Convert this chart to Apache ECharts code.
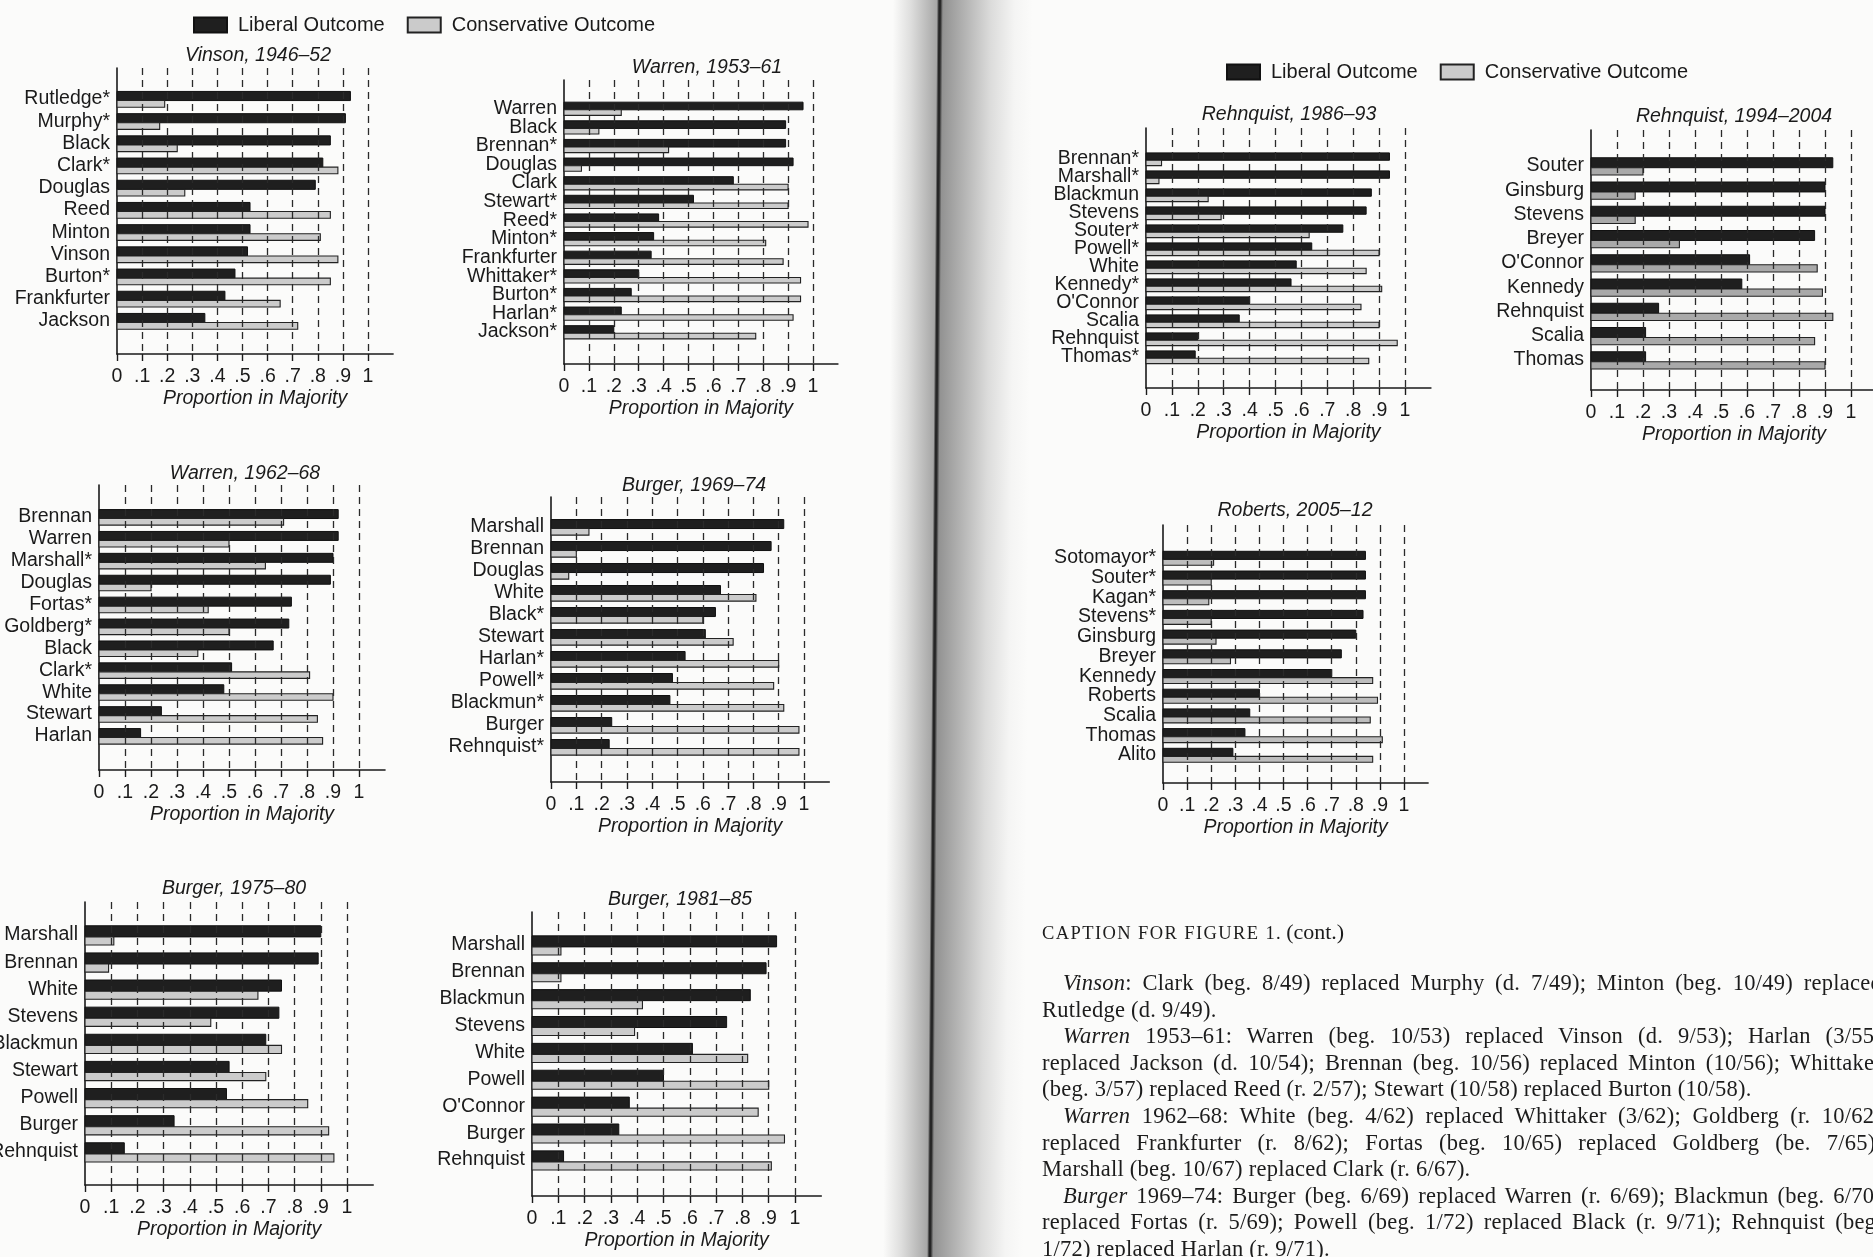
<!DOCTYPE html>
<html>
<head>
<meta charset="utf-8">
<title>Proportion in Majority by Court</title>
<script src="https://cdn.jsdelivr.net/npm/echarts@6/dist/echarts.min.js"></script>
<style>
  html, body { margin: 0; padding: 0; width: 1873px; height: 1257px; overflow: hidden; background: #fbfbfa; }
  #gutter {
    position: absolute; left: 888px; top: -30px; width: 145px; height: 1320px;
    transform: rotate(0.45deg);
    background: linear-gradient(to right,
      rgba(0,0,0,0) 0px, rgba(70,70,70,0.16) 18px, rgba(50,50,50,0.42) 44px,
      #262626 46px, #262626 47.5px, rgba(60,60,60,0.55) 50px,
      rgba(80,80,80,0.42) 72px, rgba(120,120,120,0.24) 98px, rgba(170,170,170,0.08) 122px, rgba(0,0,0,0) 140px);
  }
  #chart { position: absolute; left: 0; top: 0; width: 1873px; height: 1257px; }
  #caption {
    position: absolute; left: 1042px; top: 919px; width: 840px;
    font-family: "Liberation Serif", "DejaVu Serif", serif; font-size: 22.5px; letter-spacing: 0.25px; color: #1c1c1c;
  }
  #caption .head { height: 26px; line-height: 26px; font-size: 22px; margin-bottom: 25px; letter-spacing: 0; }
  #caption .head .caps { font-size: 18.5px; letter-spacing: 1.4px; margin-right: 4px; }
  #caption .ln { height: 26.6px; line-height: 26.6px; text-align: left; }
  #caption .ln.j { text-align: justify; text-align-last: justify; }
  #caption .ln.ind { text-indent: 21px; }
</style>
</head>
<body>
<div id="gutter"></div>
<div id="chart"></div>
<div id="caption">
  <div class="head"><span class="caps">CAPTION FOR FIGURE 1.</span>(cont.)</div>
  <div class="ln j ind"><i>Vinson</i>: Clark (beg. 8/49) replaced Murphy (d. 7/49); Minton (beg. 10/49) replaced</div>
  <div class="ln">Rutledge (d. 9/49).</div>
  <div class="ln j ind"><i>Warren</i> 1953–61: Warren (beg. 10/53) replaced Vinson (d. 9/53); Harlan (3/55)</div>
  <div class="ln j">replaced Jackson (d. 10/54); Brennan (beg. 10/56) replaced Minton (10/56); Whittaker</div>
  <div class="ln">(beg. 3/57) replaced Reed (r. 2/57); Stewart (10/58) replaced Burton (10/58).</div>
  <div class="ln j ind"><i>Warren</i> 1962–68: White (beg. 4/62) replaced Whittaker (3/62); Goldberg (r. 10/62)</div>
  <div class="ln j">replaced Frankfurter (r. 8/62); Fortas (beg. 10/65) replaced Goldberg (be. 7/65);</div>
  <div class="ln">Marshall (beg. 10/67) replaced Clark (r. 6/67).</div>
  <div class="ln j ind"><i>Burger</i> 1969–74: Burger (beg. 6/69) replaced Warren (r. 6/69); Blackmun (beg. 6/70)</div>
  <div class="ln j">replaced Fortas (r. 5/69); Powell (beg. 1/72) replaced Black (r. 9/71); Rehnquist (beg.</div>
  <div class="ln">1/72) replaced Harlan (r. 9/71).</div>
</div>
<script>
// ---- Data: proportion of cases in which each justice was in the majority ----
const tickValues = [0, 0.1, 0.2, 0.3, 0.4, 0.5, 0.6, 0.7, 0.8, 0.9, 1];
const tickLabels = ['0', '.1', '.2', '.3', '.4', '.5', '.6', '.7', '.8', '.9', '1'];
const seriesNames = ['Liberal Outcome', 'Conservative Outcome'];

const vinsonJustices = ['Rutledge*', 'Murphy*', 'Black', 'Clark*', 'Douglas', 'Reed', 'Minton', 'Vinson', 'Burton*', 'Frankfurter', 'Jackson'];
const vinsonLiberal = [0.93, 0.91, 0.85, 0.82, 0.79, 0.53, 0.53, 0.52, 0.47, 0.43, 0.35];
const vinsonConservative = [0.19, 0.17, 0.24, 0.88, 0.27, 0.85, 0.81, 0.88, 0.85, 0.65, 0.72];

const warren1Justices = ['Warren', 'Black', 'Brennan*', 'Douglas', 'Clark', 'Stewart*', 'Reed*', 'Minton*', 'Frankfurter', 'Whittaker*', 'Burton*', 'Harlan*', 'Jackson*'];
const warren1Liberal = [0.96, 0.89, 0.89, 0.92, 0.68, 0.52, 0.38, 0.36, 0.35, 0.30, 0.27, 0.23, 0.20];
const warren1Conservative = [0.23, 0.14, 0.42, 0.07, 0.90, 0.90, 0.98, 0.81, 0.88, 0.95, 0.95, 0.92, 0.77];

const warren2Justices = ['Brennan', 'Warren', 'Marshall*', 'Douglas', 'Fortas*', 'Goldberg*', 'Black', 'Clark*', 'White', 'Stewart', 'Harlan'];
const warren2Liberal = [0.92, 0.92, 0.90, 0.89, 0.74, 0.73, 0.67, 0.51, 0.48, 0.24, 0.16];
const warren2Conservative = [0.71, 0.50, 0.64, 0.20, 0.42, 0.50, 0.38, 0.81, 0.90, 0.84, 0.86];

const burger1Justices = ['Marshall', 'Brennan', 'Douglas', 'White', 'Black*', 'Stewart', 'Harlan*', 'Powell*', 'Blackmun*', 'Burger', 'Rehnquist*'];
const burger1Liberal = [0.92, 0.87, 0.84, 0.67, 0.65, 0.61, 0.53, 0.48, 0.47, 0.24, 0.23];
const burger1Conservative = [0.15, 0.10, 0.07, 0.81, 0.60, 0.72, 0.90, 0.88, 0.92, 0.98, 0.98];

const burger2Justices = ['Marshall', 'Brennan', 'White', 'Stevens', 'Blackmun', 'Stewart', 'Powell', 'Burger', 'Rehnquist'];
const burger2Liberal = [0.90, 0.89, 0.75, 0.74, 0.69, 0.55, 0.54, 0.34, 0.15];
const burger2Conservative = [0.11, 0.09, 0.66, 0.48, 0.75, 0.69, 0.85, 0.93, 0.95];

const burger3Justices = ['Marshall', 'Brennan', 'Blackmun', 'Stevens', 'White', 'Powell', "O'Connor", 'Burger', 'Rehnquist'];
const burger3Liberal = [0.93, 0.89, 0.83, 0.74, 0.61, 0.50, 0.37, 0.33, 0.12];
const burger3Conservative = [0.11, 0.11, 0.42, 0.39, 0.82, 0.90, 0.86, 0.96, 0.91];

const rehnquist1Justices = ['Brennan*', 'Marshall*', 'Blackmun', 'Stevens', 'Souter*', 'Powell*', 'White', 'Kennedy*', "O'Connor", 'Scalia', 'Rehnquist', 'Thomas*'];
const rehnquist1Liberal = [0.94, 0.94, 0.87, 0.85, 0.76, 0.64, 0.58, 0.56, 0.40, 0.36, 0.20, 0.19];
const rehnquist1Conservative = [0.06, 0.05, 0.24, 0.29, 0.63, 0.90, 0.85, 0.91, 0.83, 0.90, 0.97, 0.86];

const rehnquist2Justices = ['Souter', 'Ginsburg', 'Stevens', 'Breyer', "O'Connor", 'Kennedy', 'Rehnquist', 'Scalia', 'Thomas'];
const rehnquist2Liberal = [0.93, 0.90, 0.90, 0.86, 0.61, 0.58, 0.26, 0.21, 0.21];
const rehnquist2Conservative = [0.20, 0.17, 0.17, 0.34, 0.87, 0.89, 0.93, 0.86, 0.90];

const robertsJustices = ['Sotomayor*', 'Souter*', 'Kagan*', 'Stevens*', 'Ginsburg', 'Breyer', 'Kennedy', 'Roberts', 'Scalia', 'Thomas', 'Alito'];
const robertsLiberal = [0.84, 0.84, 0.84, 0.83, 0.80, 0.74, 0.70, 0.40, 0.36, 0.34, 0.29];
const robertsConservative = [0.21, 0.20, 0.19, 0.20, 0.22, 0.28, 0.87, 0.89, 0.86, 0.91, 0.87];

// ---- Panels: data plus page placement (zero of the x axis, pixels per unit, rows) ----
const panels = [
  { title: 'Vinson, 1946–52', names: vinsonJustices, lib: vinsonLiberal, con: vinsonConservative,
    pos: { x0: 117, unit: 251, top: 68, axisY: 354, firstY: 99, lastY: 321, tx: 258, ty: 56 } },
  { title: 'Warren, 1953–61', names: warren1Justices, lib: warren1Liberal, con: warren1Conservative,
    pos: { x0: 564, unit: 249, top: 80, axisY: 364, firstY: 108.5, lastY: 332, tx: 707, ty: 68 } },
  { title: 'Warren, 1962–68', names: warren2Justices, lib: warren2Liberal, con: warren2Conservative,
    pos: { x0: 99, unit: 260, top: 485, axisY: 770, firstY: 517, lastY: 736, tx: 245, ty: 474 } },
  { title: 'Burger, 1969–74', names: burger1Justices, lib: burger1Liberal, con: burger1Conservative,
    pos: { x0: 551, unit: 253, top: 497, axisY: 782, firstY: 527, lastY: 747, tx: 694, ty: 486 } },
  { title: 'Burger, 1975–80', names: burger2Justices, lib: burger2Liberal, con: burger2Conservative,
    pos: { x0: 85, unit: 262, top: 902, axisY: 1185, firstY: 935, lastY: 1152, tx: 234, ty: 889 } },
  { title: 'Burger, 1981–85', names: burger3Justices, lib: burger3Liberal, con: burger3Conservative,
    pos: { x0: 532, unit: 263, top: 912, axisY: 1196, firstY: 945, lastY: 1160, tx: 680, ty: 900 } },
  { title: 'Rehnquist, 1986–93', names: rehnquist1Justices, lib: rehnquist1Liberal, con: rehnquist1Conservative,
    pos: { x0: 1146, unit: 259, top: 128, axisY: 388, firstY: 159, lastY: 357, tx: 1289, ty: 115 } },
  { title: 'Rehnquist, 1994–2004', names: rehnquist2Justices, lib: rehnquist2Liberal, con: rehnquist2Conservative,
    pos: { x0: 1591, unit: 260, top: 130, axisY: 390, firstY: 166, lastY: 360, tx: 1734, ty: 117 }, conFill: '#a9a9a9' },
  { title: 'Roberts, 2005–12', names: robertsJustices, lib: robertsLiberal, con: robertsConservative,
    pos: { x0: 1163, unit: 241, top: 525, axisY: 783, firstY: 558, lastY: 755, tx: 1295, ty: 511 }, conFill: '#bdbdbd' }
];

const FONT = '"Liberation Sans", Arial, Helvetica, sans-serif';
const INK = '#1a1a1a';
const LIB_FILL = '#1f1f1f';
const CON_FILL = '#cbcbcb';

// Horizontal bar drawn from 0 to its value; offsets are fractions of the row pitch
function barRenderer(offTop, offBottom) {
  return function (params, api) {
    const row = api.value(1);
    const start = api.coord([0, row]);
    const end = api.coord([api.value(0), row]);
    const pitch = api.size([0, 1])[1];
    const y0 = start[1] + offTop * pitch;
    const y1 = start[1] + offBottom * pitch;
    return {
      type: 'rect',
      shape: { x: start[0], y: y0, width: end[0] - start[0], height: y1 - y0 },
      style: api.style()
    };
  };
}

// Justice name, right-aligned just left of the vertical axis at its row
function nameRenderer(names) {
  return function (params, api) {
    const row = api.value(1);
    const at = api.coord([0, row]);
    return {
      type: 'text', silent: true,
      x: at[0] - 7, y: at[1],
      style: {
        text: names[row], font: '19.5px ' + FONT, fill: INK,
        align: 'right', verticalAlign: 'middle', textAlign: 'right', textVerticalAlign: 'middle'
      }
    };
  };
}

const grids = [], xAxes = [], yAxes = [], series = [], graphics = [];

panels.forEach((p, k) => {
  const L = p.pos;
  const n = p.names.length;
  const pitch = (L.lastY - L.firstY) / (n - 1);
  grids.push({ left: L.x0, top: L.top, width: L.unit * 1.1, height: L.axisY - L.top, outerBoundsMode: 'none', containLabel: false });

  xAxes.push({
    gridIndex: k, type: 'value', min: 0, max: 1.1,
    axisLine: { show: true, onZero: false, lineStyle: { color: INK, width: 1.6 } },
    axisTick: { show: true, customValues: tickValues, length: 7, lineStyle: { color: INK, width: 1.4 } },
    axisLabel: {
      customValues: tickValues, margin: 13, fontFamily: FONT, fontSize: 19.5, color: INK,
      showMinLabel: true, showMaxLabel: true, hideOverlap: false,
      formatter: v => tickLabels[Math.round(v * 10)] || ''
    },
    splitLine: { show: false },
    name: 'Proportion in Majority', nameLocation: 'middle', nameGap: 35,
    nameTextStyle: { fontFamily: FONT, fontSize: 19.5, fontStyle: 'italic', color: INK }
  });

  yAxes.push({
    gridIndex: k, type: 'value', inverse: true,
    min: (L.top - L.firstY) / pitch,
    max: (n - 1) + (L.axisY - L.lastY) / pitch,
    axisLine: { show: true, onZero: false, lineStyle: { color: INK, width: 1.6 } },
    axisTick: { show: false },
    splitLine: { show: false },
    axisLabel: { show: false }
  });

  // dashed reference lines at .1 … 1
  series.push({
    type: 'line', xAxisIndex: k, yAxisIndex: k, data: [], z: 1, silent: true,
    markLine: {
      silent: true, symbol: ['none', 'none'], label: { show: false }, animation: false,
      lineStyle: { type: [7, 5], color: '#2a2a2a', width: 1.3 },
      data: tickValues.filter(v => v > 0).map(v => ({ xAxis: v }))
    }
  });

  // row labels
  series.push({
    type: 'custom', xAxisIndex: k, yAxisIndex: k, z: 4, silent: true, clip: false,
    encode: { x: 0, y: 1 },
    renderItem: nameRenderer(p.names),
    data: p.names.map((_, i) => [0, i])
  });

  series.push({
    name: seriesNames[0], type: 'custom', xAxisIndex: k, yAxisIndex: k, z: 3,
    encode: { x: 0, y: 1 },
    itemStyle: { color: LIB_FILL, borderColor: '#111', borderWidth: 1 },
    renderItem: barRenderer(-0.34, 0.07),
    data: p.lib.map((v, i) => [v, i])
  });
  series.push({
    name: seriesNames[1], type: 'custom', xAxisIndex: k, yAxisIndex: k, z: 3,
    encode: { x: 0, y: 1 },
    itemStyle: { color: p.conFill || CON_FILL, borderColor: '#222', borderWidth: 1.1 },
    renderItem: barRenderer(0.07, 0.37),
    data: p.con.map((v, i) => [v, i])
  });

  graphics.push({
    type: 'text', x: L.tx, y: L.ty, silent: true,
    style: {
      text: p.title, font: 'italic 19.5px ' + FONT, fill: INK,
      align: 'center', verticalAlign: 'middle', textAlign: 'center', textVerticalAlign: 'middle'
    }
  });
});

const legendBase = {
  data: seriesNames, icon: 'rect', itemWidth: 33, itemHeight: 15, itemGap: 22,
  selectedMode: false,
  textStyle: { fontFamily: FONT, fontSize: 20, color: INK, padding: [0, 0, 0, 6] }
};

const option = {
  animation: false,
  backgroundColor: 'transparent',
  legend: [
    Object.assign({ left: 188, top: 10 }, legendBase),
    Object.assign({ left: 1221, top: 57 }, legendBase)
  ],
  grid: grids,
  xAxis: xAxes,
  yAxis: yAxes,
  series: series,
  graphic: graphics
};

const chart = echarts.init(document.getElementById('chart'), null, { renderer: 'canvas' });
chart.setOption(option);
</script>
</body>
</html>
